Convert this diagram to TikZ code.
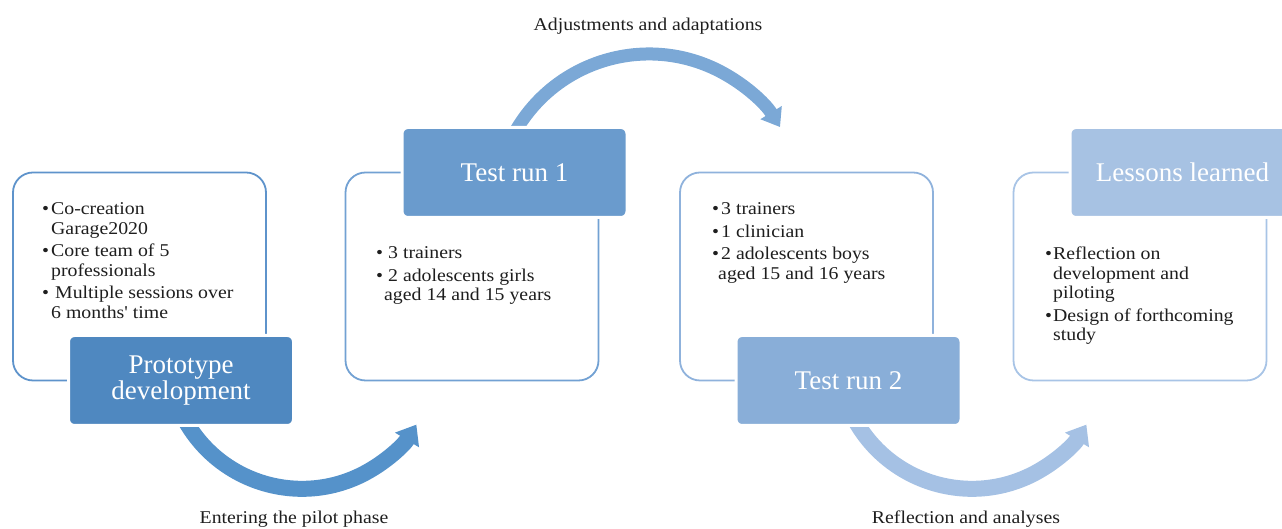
\documentclass[tikz,border=0pt]{standalone}
\usepackage{fontspec}
\setmainfont{Liberation Serif}
\newfontfamily\bodyfont[FakeStretch=1.1]{Liberation Serif}
\usetikzlibrary{arrows.meta}
\definecolor{arrA}{HTML}{5592CA}
\definecolor{arrB}{HTML}{7BA8D6}
\definecolor{arrC}{HTML}{A5C1E4}
\definecolor{hdA}{HTML}{4F88C0}
\definecolor{hdB}{HTML}{6A9BCD}
\definecolor{hdC}{HTML}{89AED8}
\definecolor{hdD}{HTML}{A7C2E3}
\definecolor{panA}{HTML}{5E93CB}
\definecolor{panB}{HTML}{72A1D3}
\definecolor{panC}{HTML}{8FB2DC}
\definecolor{panD}{HTML}{A8C4E6}
\definecolor{inkcol}{HTML}{1E1E1E}
\newcommand{\bitemx}[3]{\hangindent=#2\hangafter=1\noindent\makebox[#1][l]{\textbullet}#3\par}
\tikzset{
  panel/.style={draw=#1, line width=1.8pt, fill=white, rounded corners=20pt,
    minimum width=253pt, minimum height=208pt, inner sep=0pt},
  header/.style={fill=#1, draw=white, line width=3pt, rounded corners=6pt,
    minimum width=225pt, minimum height=90pt, text=white,
    font=\fontsize{27}{26}\selectfont, align=center, inner sep=0pt},
  bodytext/.style={anchor=base west, inner sep=0pt, text=inkcol,
    font=\bodyfont\fontsize{18}{19.5}\selectfont},
  flow/.style={draw=#1, line width=16pt, -{Triangle[length=18pt,width=27pt]}},
  flowthin/.style={draw=#1, line width=13pt, -{Triangle[length=17pt,width=24pt]}},
  caption/.style={font=\bodyfont\fontsize{18}{20}\selectfont, anchor=base,
    inner sep=0pt, text=inkcol}
}
\begin{document}
\begin{tikzpicture}[x=1pt,y=1pt]
\useasboundingbox (0,0) rectangle (1282,529);
\clip (0,0) rectangle (1282,529);

% panels
\node[panel=panA] (p1) at (139.5,252.5) {};
\node[panel=panB] (p2) at (472,252.5) {};
\node[panel=panC] (p3) at (806.5,252.5) {};
\node[panel=panD] (p4) at (1140,252.5) {};

% panel texts
\node[bodytext] (t1) at (42,314) {\parbox[t]{220pt}{\parskip=3pt
  \bitemx{9pt}{9pt}{Co-creation\\Garage2020}
  \bitemx{9pt}{9pt}{Core team of 5\\professionals}
  \bitemx{13pt}{9pt}{Multiple sessions over\\6 months' time}}};
\node[bodytext] (t2) at (376,270) {\parbox[t]{220pt}{\parskip=3pt
  \bitemx{12pt}{8pt}{3 trainers}
  \bitemx{12pt}{8pt}{2 adolescents girls\\aged 14 and 15 years}}};
\node[bodytext] (t3) at (712,314) {\parbox[t]{220pt}{\parskip=3pt
  \bitemx{9pt}{6pt}{3 trainers}
  \bitemx{9pt}{6pt}{1 clinician}
  \bitemx{9pt}{6pt}{2 adolescents boys\\aged 15 and 16 years}}};
\node[bodytext] (t4) at (1045,269) {\parbox[t]{220pt}{\parskip=3pt
  \bitemx{8pt}{8pt}{Reflection on\\development and\\piloting}
  \bitemx{8pt}{8pt}{Design of forthcoming\\study}}};

% curved arrows
\coordinate (c1) at (302,174.2);
\coordinate (c2) at (649,321);
\coordinate (c3) at (972,174.2);
\draw[flow=arrA] (c1) ++(208:134) coordinate (a1s) arc (208:328.6:134) coordinate (a1e);
\draw[flowthin=arrB] (c2) ++(153:154) coordinate (a2s) arc (153:31.7:154) coordinate (a2e);
\draw[flow=arrC] (c3) ++(208:134) coordinate (a3s) arc (208:328.6:134) coordinate (a3e);

% headers
\node[header=hdA] (h1) at (181,148.5) {Prototype\\development};
\node[header=hdB] (h2) at (514.5,356.5) {Test run 1};
\node[header=hdC] (h3) at (848.5,148.5) {Test run 2};
\node[header=hdD] (h4) at (1182.5,356.5) {Lessons learned};

% captions
\node[caption] (l1) at (294,5) {Entering the pilot phase};
\node[caption] (l2) at (648,498) {Adjustments and adaptations};
\node[caption] (l3) at (966,5) {Reflection and analyses};
\end{tikzpicture}
\end{document}
